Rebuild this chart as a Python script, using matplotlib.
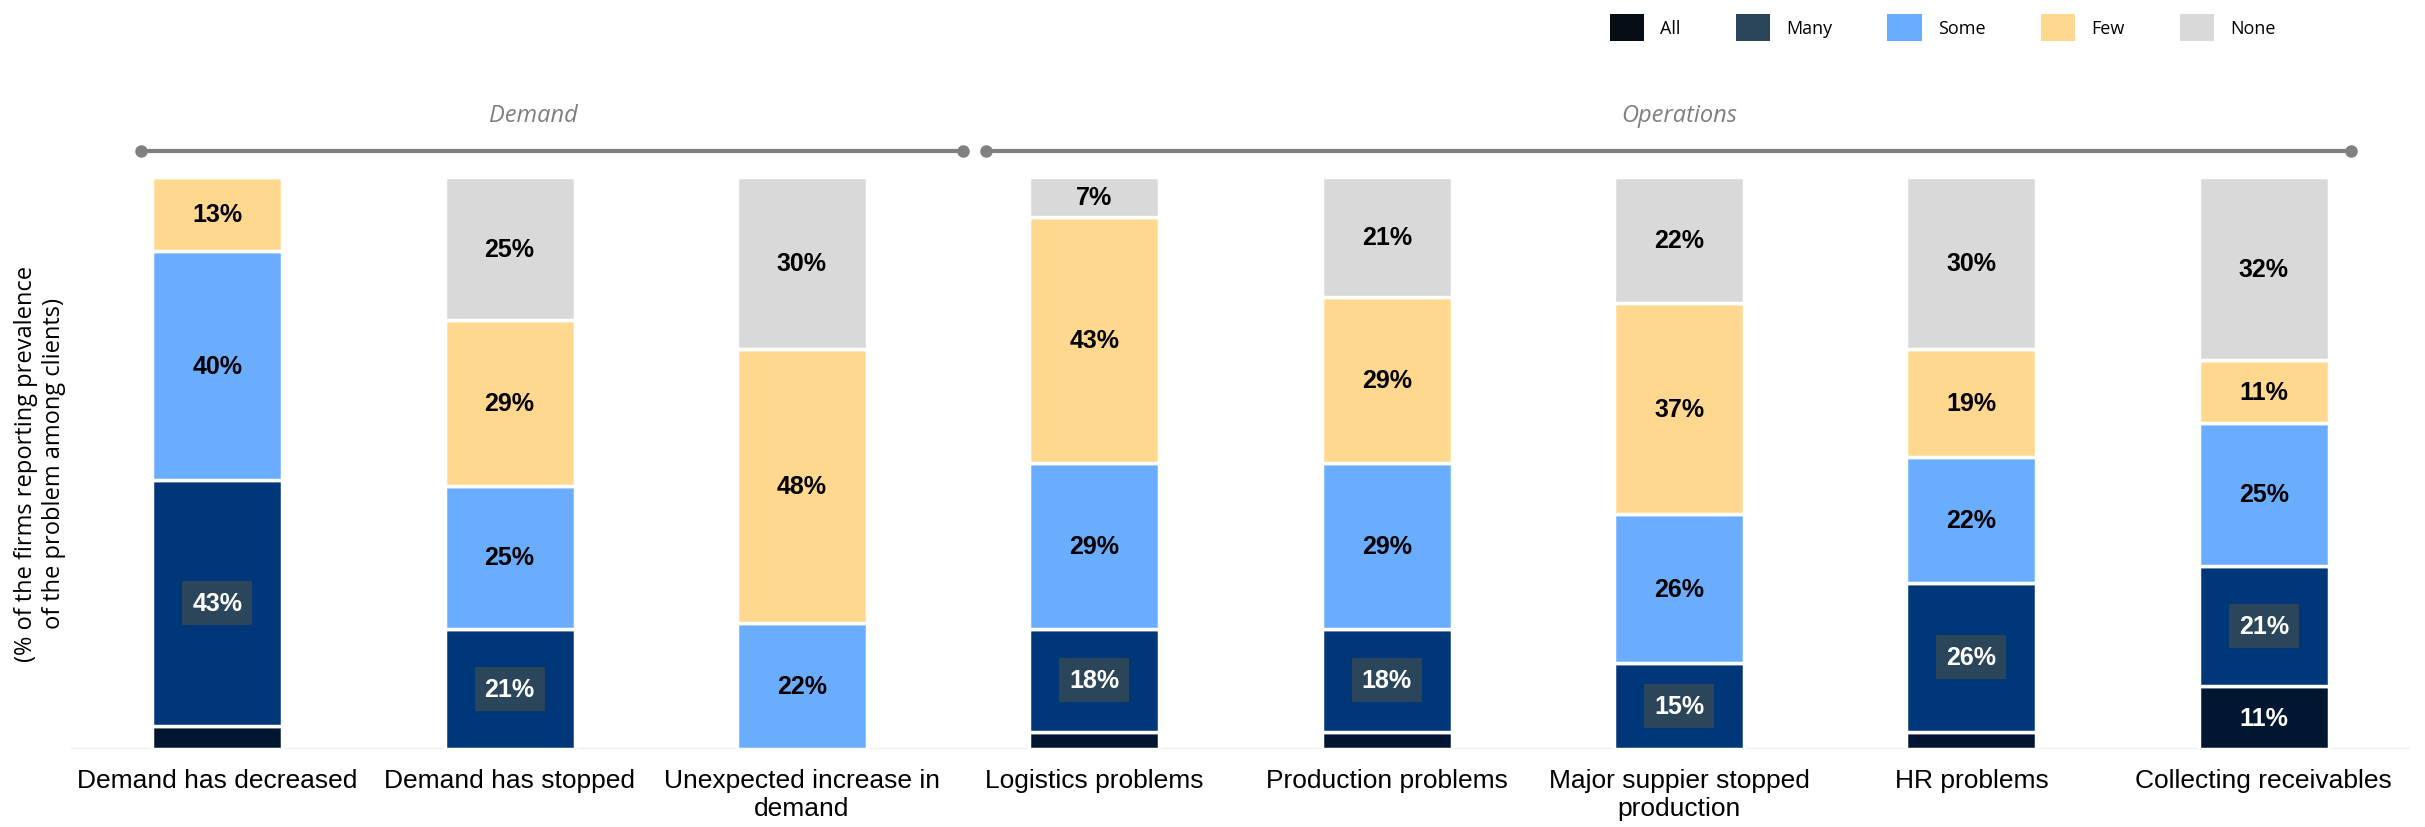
import matplotlib
matplotlib.use('Agg')
import matplotlib.pyplot as plt
from matplotlib.patches import Patch
import numpy as np

# data, bottom to top: All, Many, Some, Few, None
categories = ['Demand has decreased', 'Demand has stopped', 'Unexpected increase in\ndemand',
              'Logistics problems', 'Production problems', 'Major suppier stopped\nproduction',
              'HR problems', 'Collecting receivables']
series_names = ['All', 'Many', 'Some', 'Few', 'None']
all_vals = [4, 0, 0, 3, 3, 0, 3, 11]
many_vals = [43, 21, 0, 18, 18, 15, 26, 21]
some_vals = [40, 25, 22, 29, 29, 26, 22, 25]
few_vals = [13, 29, 48, 43, 29, 37, 19, 11]
none_vals = [0, 25, 30, 7, 21, 22, 30, 32]
groups = ['Demand', 'Operations']
group_spans = [(-0.26, 2.55), (2.63, 7.30)]
group_centers = [1.08, 5.0]

bar_colors = ['#011631', '#003778', '#6AADFF', '#FFD890', '#D9D9D9']
legend_colors = ['#070D15', '#2B465A', '#6AADFF', '#FFD890', '#D9D9D9']
box_color = '#2B465A'

fig = plt.figure(figsize=(24.25, 8.28), dpi=100)
ax = fig.add_axes([0.0293, 0.0942, 0.9645, 0.6908])

x = np.arange(len(categories))
series = [all_vals, many_vals, some_vals, few_vals, none_vals]
bottom = np.zeros(len(categories))
for i, vals in enumerate(series):
    vals = np.array(vals, dtype=float)
    ax.bar(x, vals, bottom=bottom, width=0.445, color=bar_colors[i],
           edgecolor='white', linewidth=2.5, zorder=2)
    for j, v in enumerate(vals):
        if v < 5:
            continue
        yc = bottom[j] + v / 2
        label = '%d%%' % v
        if i == 1:  # Many: white text on dark box
            ax.text(x[j], yc, label, ha='center', va='center', fontsize=18, fontweight='bold',
                    color='white', family='Liberation Sans', zorder=3,
                    bbox=dict(boxstyle='square,pad=0.4', facecolor=box_color, edgecolor='none'))
        elif i == 0:
            ax.text(x[j], yc, label, ha='center', va='center', fontsize=18, fontweight='bold',
                    color='white', family='Liberation Sans', zorder=3)
        else:
            ax.text(x[j], yc, label, ha='center', va='center', fontsize=18, fontweight='bold',
                    color='black', family='Liberation Sans', zorder=3)
    bottom += vals

ax.set_xlim(-0.5, 7.5)
ax.set_ylim(0, 100)
ax.axhline(0, color='#EEEEEE', linewidth=2.5, zorder=1)
for s in ax.spines.values():
    s.set_visible(False)
ax.set_yticks([])
ax.set_xticks(x)
ax.set_xticklabels(categories, fontsize=19, family='Liberation Sans')
ax.tick_params(axis='x', length=0, pad=14)

# group brackets on top
for name, (x0, x1), xc in zip(groups, group_spans, group_centers):
    ax.plot([x0, x1], [104.5, 104.5], color='#808080', linewidth=3, clip_on=False,
            marker='o', markersize=8, markevery=[0, 1])
    ax.text(xc, 110.8, name, ha='center', va='center', fontsize=17,
            style='italic', color='#7F7F7F', family='Open Sans')

fig.text(0.0165, 0.44, '(% of the firms reporting prevalence\nof the problem among clients)',
         rotation=90, ha='center', va='center', fontsize=17, family='Open Sans')

handles = [Patch(facecolor=c, edgecolor='none') for c in legend_colors]
fig.legend(handles, series_names, loc='center left', bbox_to_anchor=(0.660, 0.966), ncol=5,
           frameon=False, borderpad=0, handlelength=1.9, handleheight=1.9,
           handletextpad=0.9, columnspacing=3.05, prop={'family': 'Open Sans', 'size': 13})

plt.savefig('out.png', dpi=100)
plt.close()
